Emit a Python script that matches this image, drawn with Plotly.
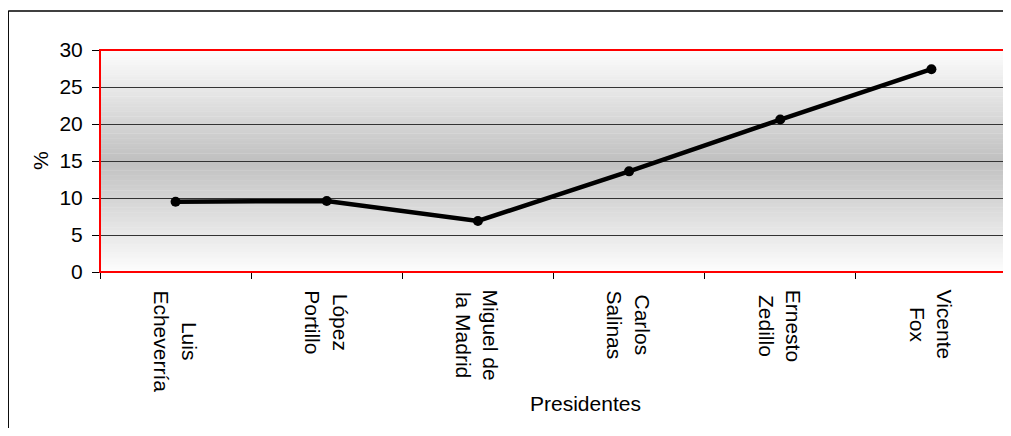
import plotly.graph_objects as go

presidentes = ["Luis<br>Echeverría", "López<br>Portillo", "Miguel de<br>la Madrid",
               "Carlos<br>Salinas", "Ernesto<br>Zedillo", "Vicente<br>Fox"]
valores = [9.5, 9.6, 6.9, 13.6, 20.6, 27.4]
y_ticks = [0, 5, 10, 15, 20, 25, 30]

OFF = 8  # page body margin
W, H = 1011 - OFF, 436 - 2 * OFF
L, T = 100 - OFF, 50 - OFF
R = W - (1007 - OFF)
B = H - (272 - OFF)
pw, ph = W - L - R, H - T - B

def px_x(p):
    return (p - OFF - L) / pw

def px_y(p):
    return (272 - p) / ph

FS = 21
font = dict(family="Liberation Sans, Arial, sans-serif", size=FS, color="black")

fig = go.Figure()
fig.add_trace(go.Scatter(
    x=list(range(len(presidentes))), y=valores, mode="lines+markers",
    line=dict(color="black", width=4.5),
    marker=dict(color="black", size=10),
    showlegend=False, hoverinfo="skip"))

shapes = []
n = 90
for i in range(n):
    y0 = i / n
    y1 = (i + 1) / n
    mid = (y0 + y1) / 2
    d = abs(mid - 0.5) / 0.5
    g = int(round(192 + (253 - 192) * d))
    shapes.append(dict(type="rect", xref="paper", yref="paper", x0=0, x1=1,
                       y0=y0, y1=y1 + 0.002, fillcolor=f"rgb({g},{g},{g})",
                       line=dict(width=0), layer="below"))
shapes.append(dict(type="rect", xref="paper", yref="paper", x0=0, x1=1, y0=0, y1=1,
                   line=dict(color="red", width=2), layer="above"))
# outer chart border (only left and top edges are visible in the frame)
shapes.append(dict(type="line", xref="paper", yref="paper",
                   x0=px_x(8.2), x1=px_x(8.2), y0=px_y(440), y1=px_y(11),
                   line=dict(color="black", width=1.5), layer="above"))
shapes.append(dict(type="line", xref="paper", yref="paper",
                   x0=px_x(8.2), x1=px_x(1010.5), y0=px_y(11), y1=px_y(11),
                   line=dict(color="black", width=1.5), layer="above"))

annotations = []
for i, name in enumerate(presidentes):
    annotations.append(dict(text=name, xref="x", x=i, yref="paper", y=px_y(288),
                            xanchor="center", yanchor="top", textangle=90,
                            align="center", showarrow=False, font=font))
annotations.append(dict(text="Presidentes", xref="paper", x=px_x(585), yref="paper",
                        y=px_y(403), xanchor="center", yanchor="middle",
                        showarrow=False, font=font))
annotations.append(dict(text="%", xref="paper", x=px_x(40), yref="paper",
                        y=px_y(160), xanchor="center", yanchor="middle",
                        textangle=-90, showarrow=False, font=font))

fig.update_layout(
    width=W, height=H,
    margin=dict(l=L, r=R, t=T, b=B),
    paper_bgcolor="white", plot_bgcolor="rgba(0,0,0,0)",
    font=font, shapes=shapes, annotations=annotations,
    xaxis=dict(
        range=[-0.5, len(presidentes) - 0.5],
        tickmode="array", tickvals=[i - 0.5 for i in range(len(presidentes) + 1)],
        ticktext=[""] * (len(presidentes) + 1),
        ticks="outside", ticklen=6, tickcolor="black",
        showgrid=False, zeroline=False,
        showline=True, linecolor="black", linewidth=1),
    yaxis=dict(
        range=[0, 30], tickmode="array", tickvals=y_ticks,
        ticks="outside", ticklen=7, tickcolor="black", ticklabelstandoff=5,
        showgrid=True, gridcolor="#333333", gridwidth=1, zeroline=False,
        showline=True, linecolor="black", linewidth=1,
        tickfont=font),
)

fig.write_html("out.html")
